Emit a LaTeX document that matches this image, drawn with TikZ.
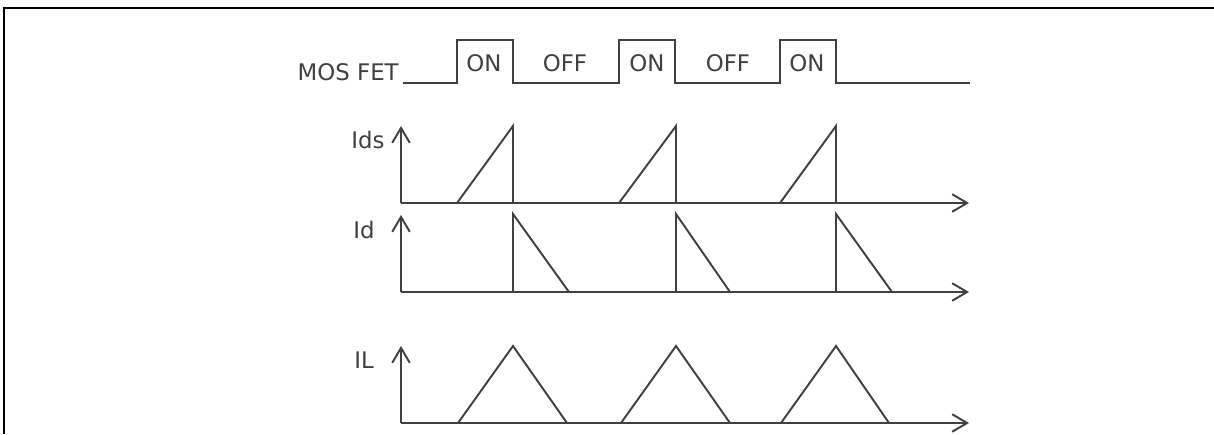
\documentclass[tikz,border=0pt]{standalone}
\usepackage{fontspec}
\setmainfont{DejaVu Sans}
\usetikzlibrary{arrows.meta,positioning}

\definecolor{linegray}{HTML}{404040}
\tikzset{
  wave/.style={draw=linegray, line width=1.1pt},
  axis/.style={wave, -{Straight Barb[length=8.5pt,width=10pt]}},
  lbl/.style={text=linegray, font=\fontsize{13}{15}\selectfont, inner sep=0pt},
}

\begin{document}
\begin{tikzpicture}[x=0.02cm, y=0.02cm]
  \useasboundingbox (0,0) rectangle (1214,434);
  \draw[line width=1.4pt] (4,0) -- (4,426) -- (1214,426);

  % gate drive
  \node[lbl, anchor=base east] (mos) at (399,354) {MOS FET};
  \draw[wave] (403,351) -- (457,351) -- (457,394) -- (513,394) -- (513,351)
    -- (619,351) -- (619,394) -- (675,394) -- (675,351)
    -- (780,351) -- (780,394) -- (836,394) -- (836,351) -- (970,351);
  \node[lbl] (on1) at (484,371) {ON};
  \node[lbl] (off1) at (565,371) {OFF};
  \node[lbl] (on2) at (647,371) {ON};
  \node[lbl] (off2) at (728,371) {OFF};
  \node[lbl] (on3) at (807,371) {ON};

  % axes
  \foreach \name/\y in {ids/231, id/142, il/11} {
    \coordinate (\name) at (401,\y);
    \draw[axis] (\name) -- ++(0,77);
    \draw[axis] (\name) -- ++(568,0);
  }
  \node[lbl] (idslbl) at (368,294) {Ids};
  \node[lbl] (idlbl) at (364,204) {Id};
  \node[lbl] (illbl) at (364,74) {IL};

  % switch current
  \foreach \a/\b in {457/513, 619/676, 780/836}
    \draw[wave] (\a,231) -- (\b,308) -- (\b,231);
  % diode current
  \foreach \b/\c in {513/569, 676/730, 836/892}
    \draw[wave] (\b,142) -- (\b,220) -- (\c,142);
  % inductor current
  \foreach \a/\b/\c in {458/513/567, 621/676/730, 781/836/889}
    \draw[wave] (\a,11) -- (\b,88) -- (\c,11);
\end{tikzpicture}
\end{document}
